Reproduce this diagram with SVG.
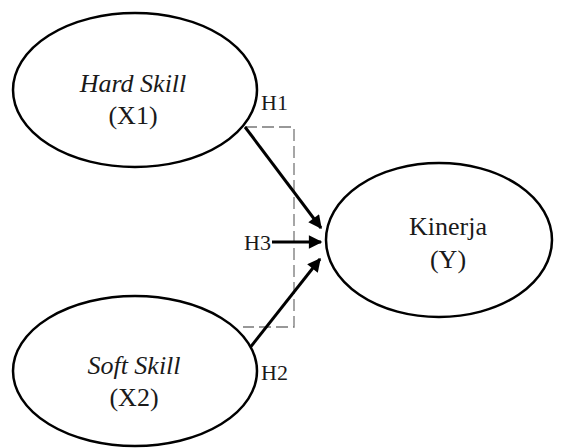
<svg xmlns="http://www.w3.org/2000/svg" width="562" height="448" viewBox="0 0 562 448">
<style>
.node{fill:#fff;stroke:#000;stroke-width:2.5}
.t{font-family:"Liberation Serif","Times New Roman",serif;font-size:26px;fill:#1a1a1a;text-anchor:middle}
.i{font-style:italic}
.lbl{font-family:"Liberation Serif","Times New Roman",serif;font-size:22px;fill:#1a1a1a}
.arr{stroke:#000;stroke-width:3;fill:none;marker-end:url(#ah)}
.dash{stroke:#777;stroke-width:1.3;fill:none;stroke-dasharray:12 5}
</style>
<defs>
<marker id="ah" viewBox="0 0 10 10" refX="9" refY="5" markerWidth="5" markerHeight="4.5" orient="auto" markerUnits="strokeWidth">
<path d="M0,0 L10,5 L0,10 Z" fill="#000"/>
</marker>
</defs>
<rect width="562" height="448" fill="#fff"/>
<g id="connectors">
<path class="dash" d="M245,127 H294 V327 H243"/>
<line class="arr" x1="245" y1="127" x2="321" y2="228"/>
<line class="arr" x1="272" y1="242" x2="321" y2="242"/>
<line class="arr" x1="249" y1="349" x2="320" y2="259"/>
<text class="lbl" x="261" y="110">H1</text>
<text class="lbl" x="244" y="250">H3</text>
<text class="lbl" x="261" y="380">H2</text>
</g>
<g id="hard-skill">
<ellipse class="node" cx="135" cy="90" rx="122" ry="77"/>
<text class="t i" x="133" y="92">Hard Skill</text>
<text class="t" x="133" y="124">(X1)</text>
</g>
<g id="soft-skill">
<ellipse class="node" cx="135" cy="371" rx="122" ry="75"/>
<text class="t i" x="134" y="374">Soft Skill</text>
<text class="t" x="134" y="406">(X2)</text>
</g>
<g id="kinerja">
<ellipse class="node" cx="439" cy="240" rx="113" ry="77"/>
<text class="t" x="448" y="235">Kinerja</text>
<text class="t" x="448" y="268">(Y)</text>
</g>
</svg>
